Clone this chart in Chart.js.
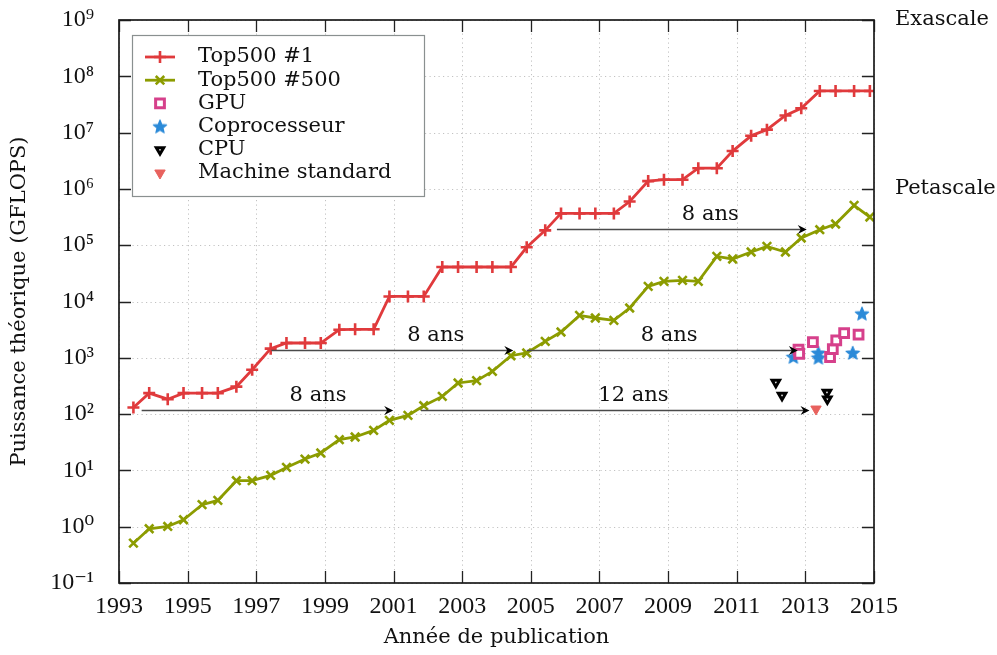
<!DOCTYPE html>
<html><head><meta charset="utf-8">
<script src="https://cdn.jsdelivr.net/npm/chart.js@4.4.1/dist/chart.umd.min.js"></script>
<style>html,body{margin:0;padding:0;background:#fff;}#c{display:block;}</style>
</head><body>
<canvas id="c" width="997" height="655"></canvas>
<script>
// ---------- data ----------
const listDates = [1993.42,1993.88,1994.42,1994.88,1995.42,1995.88,1996.42,1996.88,1997.42,1997.88,
  1998.42,1998.88,1999.42,1999.88,2000.42,2000.88,2001.42,2001.88,2002.42,2002.88,
  2003.42,2003.88,2004.42,2004.88,2005.42,2005.88,2006.42,2006.88,2007.42,2007.88,
  2008.42,2008.88,2009.42,2009.88,2010.42,2010.88,2011.42,2011.88,2012.42,2012.88,
  2013.42,2013.88,2014.42,2014.88];
const top1Gflops = [131,236,184,236,236,236,307,614,1453,1830,
  1830,1830,3154,3207,3207,12288,12288,12288,40960,40960,
  40960,40960,40960,91750,183500,367000,367000,367000,367000,596378,
  1375780,1456700,1456700,2331000,2331000,4701000,8773630,11280384,20132659,27112550,
  54902400,54902400,54902400,54902400];
const top500Gflops = [0.51,0.92,1.01,1.33,2.46,2.93,6.56,6.56,8.15,11.3,
  15.9,20.4,35.1,39.2,51.4,77.3,94.8,141,206,357,
  392,574,1089,1217,1954,2871,5662,5093,4617,7656,
  18530,22750,23700,22750,63240,56890,75680,95280,75680,134300,
  188500,238200,509500,316800];
const gpuYears  = [2012.80,2012.82,2013.22,2013.72,2013.80,2013.90,2014.13,2014.55];
const gpuGflops = [1393,1180,1905,1033,1432,2037,2754,2570];
const copYears  = [2012.65,2013.38,2013.38,2014.38,2014.65];
const copGflops = [1033,1217,1000,1217,6067];
const cpuYears  = [2012.14,2012.32,2013.63,2013.64];
const cpuGflops = [366,215,243,185];
const stdYears  = [2013.31];
const stdGflops = [123];

const seriesLabels = ['Top500 #1','Top500 #500','GPU','Coprocesseur','CPU','Machine standard'];
const xTickValues = [1993,1995,1997,1999,2001,2003,2005,2007,2009,2011,2013,2015];
const yTickValues = [0.1,1,10,100,1e3,1e4,1e5,1e6,1e7,1e8,1e9];
const yTickLabels = ['10⁻¹','10⁰','10¹','10²','10³','10⁴','10⁵','10⁶','10⁷','10⁸','10⁹'];

// annotation arrows: from year, to year, level (GFLOPS), label, label x (year)
const arrowFrom   = [1993.66, 1997.44, 2004.88, 2001.80, 2005.76];
const arrowTo     = [2000.99, 2004.49, 2012.78, 2013.12, 2013.04];
const arrowLevel  = [120, 1396, 1396, 120, 194000];
const arrowText   = ['8 ans','8 ans','8 ans','12 ans','8 ans'];
const arrowTextX  = [1998.8, 2002.23, 2009.03, 2007.99, 2010.23];
const sideLabels  = ['Exascale','Petascale'];
const sideLevels  = [1e9, 1e6];

// ---------- styles ----------
const RED = '#e03a3c', OLIVE = '#8c9c00', PINK = '#d6408b', BLUE = '#2b8ad8', SALMON = '#e8625e';
const WORD_FONT = '"DejaVu Serif", serif';
const NUM_FONT = '"Liberation Serif", "DejaVu Serif", serif';

function makeStar(color){
  const c = document.createElement('canvas'); c.width = 16; c.height = 16;
  const g = c.getContext('2d');
  g.fillStyle = color; g.strokeStyle = color; g.lineWidth = 1.2; g.lineJoin='round';
  g.beginPath();
  for (let i=0;i<10;i++){
    const r = i%2===0 ? 7 : 3.1;
    const a = -Math.PI/2 + i*Math.PI/5;
    const px = 8 + r*Math.cos(a), py = 8.4 + r*Math.sin(a);
    i===0 ? g.moveTo(px,py) : g.lineTo(px,py);
  }
  g.closePath(); g.fill(); g.stroke();
  return c;
}
const starImg = makeStar(BLUE);

const zip = (xs, ys) => xs.map((v,i)=>({x:v, y:ys[i]}));

const decoPlugin = {
  id:'deco',
  beforeDatasetsDraw(chart){
    const {ctx, chartArea:a, scales:{x,y}} = chart;
    ctx.save();
    ctx.strokeStyle = '#c2c2c2'; ctx.lineWidth = 1; ctx.setLineDash([1.2,3.3]);
    x.ticks.forEach(t=>{
      const px = Math.round(x.getPixelForValue(t.value))+0.5;
      ctx.beginPath(); ctx.moveTo(px,a.top); ctx.lineTo(px,a.bottom); ctx.stroke();
    });
    y.ticks.forEach(t=>{
      const py = Math.round(y.getPixelForValue(t.value))+0.5;
      ctx.beginPath(); ctx.moveTo(a.left,py); ctx.lineTo(a.right,py); ctx.stroke();
    });
    ctx.restore();
  },
  afterDatasetsDraw(chart){
    const {ctx, scales:{x,y}} = chart;
    ctx.save();
    arrowFrom.forEach((f,i)=>{
      const x0 = x.getPixelForValue(f), x1 = x.getPixelForValue(arrowTo[i]);
      const py = Math.round(y.getPixelForValue(arrowLevel[i]))+0.5;
      ctx.strokeStyle = '#4a4a4a'; ctx.lineWidth = 1.5;
      ctx.beginPath(); ctx.moveTo(x0,py); ctx.lineTo(x1-4,py); ctx.stroke();
      ctx.fillStyle = '#000';
      ctx.beginPath(); ctx.moveTo(x1,py); ctx.lineTo(x1-9,py-4.5); ctx.lineTo(x1-6,py); ctx.lineTo(x1-9,py+4.5); ctx.closePath(); ctx.fill();
      ctx.font = '21px '+WORD_FONT; ctx.fillStyle = '#111'; ctx.textAlign='center'; ctx.textBaseline='middle';
      ctx.fillText(arrowText[i], x.getPixelForValue(arrowTextX[i]), py-14.5);
    });
    ctx.restore();
  },
  afterDraw(chart){
    const {ctx, chartArea:a, scales:{x,y}} = chart;
    ctx.save();
    ctx.strokeStyle = '#222'; ctx.lineWidth = 1.3; ctx.setLineDash([]);
    const TL = 12;
    x.ticks.forEach(t=>{
      const px = Math.round(x.getPixelForValue(t.value))+0.5;
      ctx.beginPath(); ctx.moveTo(px,a.bottom); ctx.lineTo(px,a.bottom-TL);
      ctx.moveTo(px,a.top); ctx.lineTo(px,a.top+TL); ctx.stroke();
    });
    y.ticks.forEach(t=>{
      const py = Math.round(y.getPixelForValue(t.value))+0.5;
      ctx.beginPath(); ctx.moveTo(a.left,py); ctx.lineTo(a.left+TL,py);
      ctx.moveTo(a.right,py); ctx.lineTo(a.right-TL,py); ctx.stroke();
    });
    ctx.lineWidth = 1.7; ctx.strokeStyle = '#1a1a1a';
    ctx.strokeRect(a.left, a.top, a.right-a.left, a.bottom-a.top);
    ctx.font = '21px '+WORD_FONT; ctx.fillStyle = '#111'; ctx.textAlign='left'; ctx.textBaseline='middle';
    sideLabels.forEach((s,i)=> ctx.fillText(s, a.right+21, y.getPixelForValue(sideLevels[i])));
    // legend
    const bx = 132.5, by = 35.5, bw = 292, bh = 161;
    ctx.fillStyle = '#fff'; ctx.fillRect(bx,by,bw,bh);
    ctx.strokeStyle = '#8a9090'; ctx.lineWidth = 1.2; ctx.strokeRect(bx,by,bw,bh);
    chart.data.datasets.forEach((ds,i)=>{
      const cy = 57 + i*23.2;
      const cx = 160;
      if (ds.showLine){
        ctx.strokeStyle = ds.borderColor; ctx.lineWidth = ds.borderWidth;
        ctx.beginPath(); ctx.moveTo(145,cy); ctx.lineTo(175,cy); ctx.stroke();
      }
      ctx.strokeStyle = ds.pointBorderColor; ctx.fillStyle = ds.pointBackgroundColor;
      ctx.lineWidth = ds.pointBorderWidth;
      Chart.helpers.drawPoint(ctx, {pointStyle: ds.pointStyle, radius: ds.pointRadius, rotation: ds.pointRotation||0, borderWidth: ds.pointBorderWidth}, cx, cy);
      ctx.font = '21px '+WORD_FONT; ctx.fillStyle = '#111'; ctx.textAlign='left'; ctx.textBaseline='middle';
      ctx.fillText(ds.label, 198, cy);
    });
    ctx.restore();
  }
};

new Chart(document.getElementById('c'), {
  type:'scatter',
  data:{datasets:[
    {label:seriesLabels[0], data:zip(listDates, top1Gflops), showLine:true, borderColor:RED, borderWidth:2.8,
     pointStyle:'cross', pointRadius:6, pointBorderColor:RED, pointBackgroundColor:RED, pointBorderWidth:2.6, pointRotation:0},
    {label:seriesLabels[1], data:zip(listDates, top500Gflops), showLine:true, borderColor:OLIVE, borderWidth:2.8,
     pointStyle:'crossRot', pointRadius:6, pointBorderColor:OLIVE, pointBackgroundColor:OLIVE, pointBorderWidth:2.6, pointRotation:0},
    {label:seriesLabels[2], data:zip(gpuYears, gpuGflops), showLine:false,
     pointStyle:'rect', pointRadius:6.2, pointBorderColor:PINK, pointBackgroundColor:'#fff', pointBorderWidth:3, pointRotation:0},
    {label:seriesLabels[3], data:zip(copYears, copGflops), showLine:false,
     pointStyle:starImg, pointRadius:7, pointBorderColor:BLUE, pointBackgroundColor:BLUE, pointBorderWidth:0, pointRotation:0},
    {label:seriesLabels[4], data:zip(cpuYears, cpuGflops), showLine:false,
     pointStyle:'triangle', pointRadius:4.3, pointBorderColor:'#000', pointBackgroundColor:'#fff', pointBorderWidth:3, pointRotation:180},
    {label:seriesLabels[5], data:zip(stdYears, stdGflops), showLine:false,
     pointStyle:'triangle', pointRadius:6, pointBorderColor:SALMON, pointBackgroundColor:SALMON, pointBorderWidth:1, pointRotation:180}
  ]},
  options:{
    responsive:false, animation:false, devicePixelRatio:1,
    layout:{padding:{left:0,right:123,top:20,bottom:0}},
    plugins:{legend:{display:false}, tooltip:{enabled:false}},
    elements:{line:{tension:0}},
    scales:{
      x:{type:'linear', min:1993, max:2015,
        afterBuildTicks(s){ s.ticks = xTickValues.map(v=>({value:v})); },
        afterFit(s){ s.height = 72; s.paddingLeft = 0; s.paddingRight = 0; },
        grid:{display:false, drawTicks:false}, border:{display:false},
        ticks:{padding:9, color:'#111', font:{family:NUM_FONT, size:24}, maxRotation:0, autoSkip:false,
          callback:(v)=>String(v)},
        title:{display:true, text:'Année de publication', color:'#111', font:{family:WORD_FONT, size:21}, padding:{top:0,bottom:5}}
      },
      y:{type:'logarithmic', min:0.1, max:1e9,
        afterBuildTicks(s){ s.ticks = yTickValues.map(v=>({value:v})); },
        afterFit(s){ s.width = 119; s.paddingTop = 0; s.paddingBottom = 0; },
        grid:{display:false, drawTicks:false}, border:{display:false},
        ticks:{padding:25, color:'#111', font:{family:NUM_FONT, size:24}, autoSkip:false,
          callback:(v)=>{ const i = yTickValues.findIndex(t=>Math.abs(Math.log10(t)-Math.log10(v))<1e-6); return i>=0 ? yTickLabels[i] : ''; }},
        title:{display:true, text:'Puissance théorique (GFLOPS)', color:'#111', font:{family:WORD_FONT, size:21}, padding:{top:7,bottom:0}}
      }
    }
  },
  plugins:[decoPlugin]
});
</script>
</body></html>
